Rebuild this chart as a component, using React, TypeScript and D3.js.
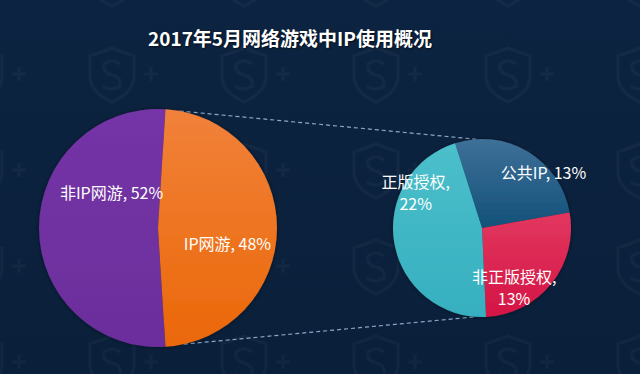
import { useEffect } from "react";
import * as d3 from "d3";

const title = "2017年5月网络游戏中IP使用概况";
const mainCategories = ["非IP网游", "IP网游"];
const mainValues = [52, 48];
const subCategories = ["公共IP", "非正版授权", "正版授权"];
const subValues = [13, 13, 22];
// which labels wrap after the comma
const subWrap = [false, true, true];

const W = 640;
const H = 374;
const FONT = '"Microsoft YaHei", "Noto Sans CJK SC", "Noto Sans", sans-serif';

const mainColors = [
  ["#7434a6", "#6c2e9c"],
  ["#f1813a", "#eb6808"],
];
const subColors = [
  ["#3e7098", "#135179"],
  ["#e2375f", "#d41545"],
  ["#4cbfcb", "#36afbf"],
];

// label nudges relative to slice centroid
const mainLabelShift = [
  [19, -29],
  [4, 22],
];
const subLabelShift = [
  [33, -2],
  [-11, 21],
  [-12, -50],
];

const deg = Math.PI / 180;

const App = () => {
  useEffect(() => {
    document.body.style.margin = "0";
    document.body.style.background = "#0c2340";
  }, []);

  const left = { cx: 158, cy: 228, r: 119 };
  const right = { cx: 482, cy: 228, r: 89 };

  // IP网游 slice centred on the right side (pointing to the breakdown)
  const total = d3.sum(mainValues);
  const ipShare = mainValues[1] / total;
  const mainStart = Math.PI / 2 - 2 * Math.PI * (1 - ipShare / 2);
  const mainPie = d3
    .pie<number>()
    .sort(null)
    .startAngle(mainStart)
    .endAngle(mainStart + 2 * Math.PI);
  const mainArcs = mainPie(mainValues);

  const subStart = -17.6 * deg;
  const subPie = d3
    .pie<number>()
    .sort(null)
    .startAngle(subStart)
    .endAngle(subStart + 2 * Math.PI);
  const subArcs = subPie(subValues);

  const mainArc = d3.arc<d3.PieArcDatum<number>>().innerRadius(0).outerRadius(left.r);
  const mainLabelArc = d3
    .arc<d3.PieArcDatum<number>>()
    .innerRadius(left.r * 0.55)
    .outerRadius(left.r * 0.55);
  const subArc = d3.arc<d3.PieArcDatum<number>>().innerRadius(0).outerRadius(right.r);
  const subLabelArc = d3
    .arc<d3.PieArcDatum<number>>()
    .innerRadius(right.r * 0.62)
    .outerRadius(right.r * 0.62);

  // connector lines: points on the two circles
  const onCircle = (c: { cx: number; cy: number; r: number }, a: number) => [
    c.cx + c.r * Math.sin(a),
    c.cy - c.r * Math.cos(a),
  ];
  const [tx1, ty1] = onCircle(left, 10.5 * deg);
  const [tx2, ty2] = onCircle(right, -4 * deg);
  const [bx1, by1] = onCircle(left, 167.5 * deg);
  const [bx2, by2] = onCircle(right, 184 * deg);

  return (
    <div style={{ position: "fixed", left: 0, top: 0 }}>
      <svg width={W} height={H} style={{ display: "block" }}>
        <defs>
          <linearGradient id="bg" x1="0" y1="0" x2="0" y2="1">
            <stop offset="0" stopColor="#0c2441" />
            <stop offset="1" stopColor="#0a1f3a" />
          </linearGradient>
          {mainColors.map((c, i) => (
            <linearGradient key={i} id={`mg${i}`} x1="0" y1="0" x2="0" y2="1">
              <stop offset="0" stopColor={c[0]} />
              <stop offset="1" stopColor={c[1]} />
            </linearGradient>
          ))}
          {subColors.map((c, i) => (
            <linearGradient key={i} id={`sg${i}`} x1="0" y1="0" x2="0" y2="1">
              <stop offset="0" stopColor={c[0]} />
              <stop offset="1" stopColor={c[1]} />
            </linearGradient>
          ))}
          <pattern id="wm" width="132" height="96" patternUnits="userSpaceOnUse" x="40" y="26">
            <g fill="none" stroke="#ffffff" strokeOpacity="0.03" strokeWidth="3">
              <path d="M50 30 L72 22 L94 30 L94 50 Q94 66 72 76 Q50 66 50 50 Z" />
              <path d="M80 38 Q72 32 64 38 Q62 46 72 49 Q82 52 80 60 Q72 66 63 60" />
              <path d="M104 48 L118 48 M111 41 L111 55" />
            </g>
          </pattern>
          <filter id="shadow" x="-10%" y="-10%" width="120%" height="120%">
            <feDropShadow dx="0" dy="0" stdDeviation="2" floodColor="#000" floodOpacity="0.45" />
          </filter>
        </defs>

        <rect width={W} height={H} fill="url(#bg)" />
        <rect width={W} height={H} fill="url(#wm)" />

        <text
          x={290}
          y={46}
          textAnchor="middle"
          fill="#ffffff"
          fontFamily={FONT}
          fontWeight="bold"
          fontSize={19}
          style={{ textShadow: "1px 1px 2px rgba(0,0,0,0.6)" }}
        >
          {title}
        </text>

        <g stroke="#8ea6c6" strokeWidth={1.2} strokeDasharray="4 3" fill="none">
          <line x1={tx1} y1={ty1} x2={tx2} y2={ty2} />
          <line x1={bx1} y1={by1} x2={bx2} y2={by2} />
        </g>

        <g transform={`translate(${left.cx},${left.cy})`} filter="url(#shadow)">
          {mainArcs.map((a, i) => (
            <path key={i} d={mainArc(a) || ""} fill={`url(#mg${i})`} />
          ))}
        </g>
        <g transform={`translate(${right.cx},${right.cy})`} filter="url(#shadow)">
          {subArcs.map((a, i) => (
            <path key={i} d={subArc(a) || ""} fill={`url(#sg${i})`} />
          ))}
        </g>

        <g
          transform={`translate(${left.cx},${left.cy})`}
          fill="#ffffff"
          fontFamily={FONT}
          fontSize={16}
          textAnchor="middle"
        >
          {mainArcs.map((a, i) => {
            const [x, y] = mainLabelArc.centroid(a);
            return (
              <text key={i} x={x + mainLabelShift[i][0]} y={y + mainLabelShift[i][1]}>
                {`${mainCategories[i]}, ${mainValues[i]}%`}
              </text>
            );
          })}
        </g>

        <g
          transform={`translate(${right.cx},${right.cy})`}
          fill="#ffffff"
          fontFamily={FONT}
          fontSize={16}
          textAnchor="middle"
        >
          {subArcs.map((a, i) => {
            const [x, y] = subLabelArc.centroid(a);
            const lx = x + subLabelShift[i][0];
            const ly = y + subLabelShift[i][1];
            if (!subWrap[i]) {
              return (
                <text key={i} x={lx} y={ly}>
                  {`${subCategories[i]}, ${subValues[i]}%`}
                </text>
              );
            }
            return (
              <text key={i} x={lx} y={ly}>
                <tspan x={lx}>{`${subCategories[i]},`}</tspan>
                <tspan x={lx} dy={22}>{`${subValues[i]}%`}</tspan>
              </text>
            );
          })}
        </g>
      </svg>
    </div>
  );
};

export default App;
